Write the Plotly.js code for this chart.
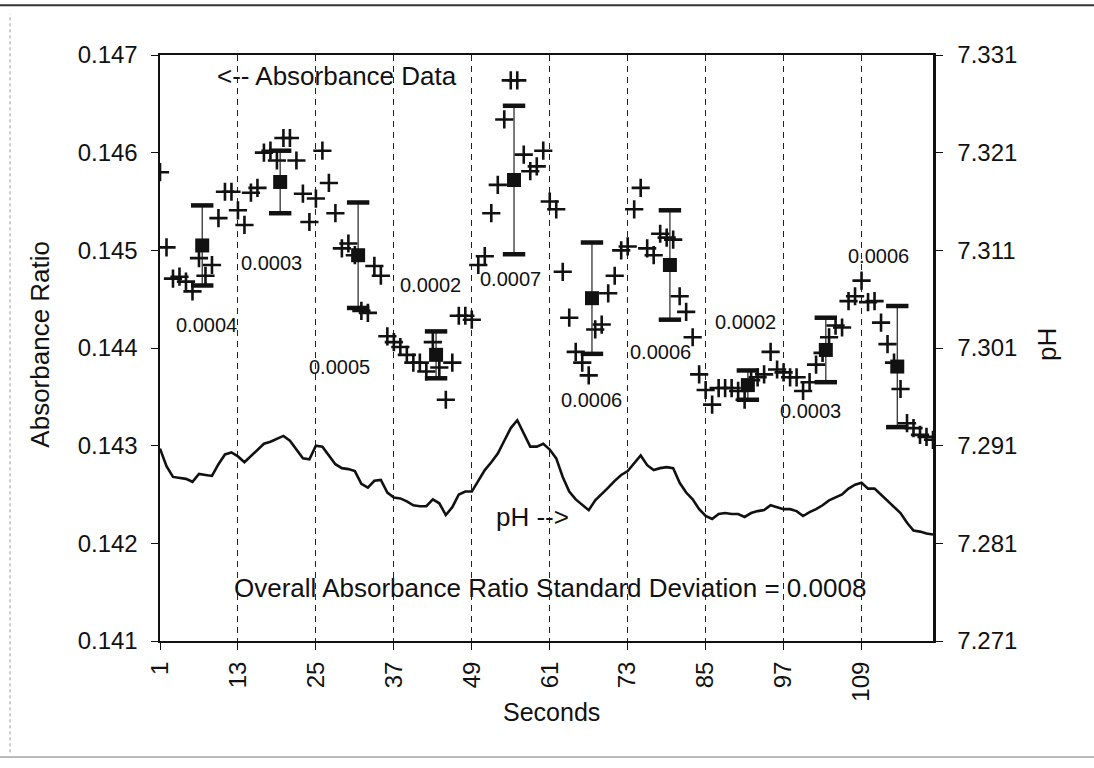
<!DOCTYPE html>
<html><head><meta charset="utf-8">
<script src="https://cdn.plot.ly/plotly-3.0.1.min.js"></script>
<style>html,body{margin:0;padding:0;background:#fff;} #chart{width:1094px;height:768px;}</style>
</head><body><div id="chart"></div>
<script>
// Absorbance ratio, one reading per second (seconds 1..120)
const absorbance = [
0.14580,0.14503,0.14471,0.14473,0.14468,0.14458,0.14492,0.14474,0.14485,0.14533,
0.14560,0.14560,0.14541,0.14526,0.14559,0.14564,0.14600,0.14602,0.14592,0.14615,
0.14615,0.14592,0.14558,0.14529,0.14553,0.14602,0.14569,0.14538,0.14502,0.14507,
0.14495,0.14438,0.14436,0.14484,0.14474,0.14412,0.14406,0.14401,0.14393,0.14385,
0.14385,0.14376,0.14406,0.14380,0.14347,0.14385,0.14433,0.14433,0.14429,0.14485,
0.14494,0.14538,0.14567,0.14634,0.14674,0.14674,0.14598,0.14581,0.14586,0.14602,
0.14550,0.14542,0.14478,0.14431,0.14396,0.14385,0.14372,0.14419,0.14424,0.14456,
0.14474,0.14500,0.14504,0.14542,0.14564,0.14502,0.14495,0.14517,0.14513,0.14511,
0.14453,0.14437,0.14411,0.14373,0.14357,0.14342,0.14359,0.14359,0.14359,0.14356,
0.14347,0.14367,0.14370,0.14373,0.14396,0.14378,0.14375,0.14370,0.14370,0.14356,
0.14365,0.14383,0.14395,0.14411,0.14423,0.14421,0.14448,0.14453,0.14469,0.14447,
0.14448,0.14426,0.14404,0.14385,0.14358,0.14323,0.14318,0.14311,0.14309,0.14306];

// pH, one reading per second (seconds 1..120)
const ph = [
7.2907,7.2889,7.2878,7.2877,7.2876,7.2873,7.2881,7.2880,7.2879,7.2891,
7.2901,7.2903,7.2899,7.2893,7.2899,7.2905,7.2912,7.2914,7.2917,7.2920,
7.2915,7.2906,7.2897,7.2896,7.2910,7.2909,7.2900,7.2891,7.2887,7.2886,
7.2884,7.2871,7.2867,7.2874,7.2875,7.2862,7.2857,7.2856,7.2853,7.2849,
7.2848,7.2848,7.2855,7.2851,7.2839,7.2847,7.2860,7.2863,7.2863,7.2874,
7.2885,7.2893,7.2902,7.2915,7.2928,7.2936,7.2923,7.2909,7.2909,7.2912,
7.2906,7.2897,7.2878,7.2863,7.2855,7.2849,7.2844,7.2854,7.2860,7.2867,
7.2874,7.2880,7.2884,7.2892,7.2900,7.2890,7.2885,7.2887,7.2888,7.2887,
7.2872,7.2862,7.2855,7.2845,7.2838,7.2835,7.2840,7.2841,7.2840,7.2840,
7.2837,7.2841,7.2843,7.2844,7.2849,7.2847,7.2845,7.2845,7.2843,7.2838,
7.2842,7.2845,7.2849,7.2854,7.2857,7.2860,7.2866,7.2870,7.2872,7.2866,
7.2866,7.2860,7.2854,7.2848,7.2841,7.2831,7.2823,7.2822,7.2820,7.2819];

// 12-second group means and standard deviations
const groupCenter = [7.5,19.5,31.5,43.5,55.5,67.5,79.5,91.5,103.5,114.5];
const groupMean   = [0.14505,0.14570,0.14495,0.14393,0.14572,0.14451,0.14485,0.14362,0.14398,0.14381];
const groupSD     = [0.00041,0.00032,0.00054,0.00024,0.00076,0.00057,0.00056,0.00015,0.00033,0.00062];
const sdLabels    = ['0.0004','0.0003','0.0005','0.0002','0.0007','0.0006','0.0006','0.0002','0.0003','0.0006'];

const xTickVals = [1,13,25,37,49,61,73,85,97,109];
const xTickText = ['1','13','25','37','49','61','73','85','97','109'];
const absTicks  = [0.141,0.142,0.143,0.144,0.145,0.146,0.147];
const phTicks   = [7.271,7.281,7.291,7.301,7.311,7.321,7.331];

const FONT = '"Liberation Sans", Arial, sans-serif';

const capY = groupMean.map((m,i)=>m+groupSD[i]).concat(groupMean.map((m,i)=>m-groupSD[i]));
const capX = groupCenter.concat(groupCenter);

const traces = [
  {x0:1, dx:1, y:ph, yaxis:'y2', type:'scatter', mode:'lines',
   line:{color:'#111', width:2.6}, hoverinfo:'skip'},
  {x0:1, dx:1, y:absorbance, type:'scatter', mode:'markers',
   marker:{symbol:'cross-thin', size:13, color:'#111', line:{color:'#111', width:2.6}}},
  {x:groupCenter, y:groupMean, type:'scatter', mode:'markers',
   marker:{symbol:'square', size:14, color:'#111'},
   error_y:{type:'data', array:groupSD, visible:true, color:'#222', thickness:1.2, width:0}},
  {x:capX, y:capY, type:'scatter', mode:'markers',
   marker:{symbol:'line-ew', size:16, color:'#111', line:{color:'#111', width:4.5}}}
];

const sdPos = [[8.2,0.14424],[18.2,0.14487],[28.7,0.14381],[42.6,0.14464],[54.9,0.14471],
               [67.5,0.14347],[78.1,0.14396],[91.2,0.14427],[101.1,0.14335],[111.6,0.14494]];
const annotations = sdLabels.map((t,i)=>({x:sdPos[i][0], y:sdPos[i][1], xref:'x', yref:'y',
  xanchor:'center', yanchor:'middle',
  text:t, showarrow:false, font:{family:FONT, size:20, color:'#111'}}));

annotations.push(
  {x:28.2, y:0.14678, xref:'x', yref:'y', xanchor:'center', yanchor:'middle', text:'&lt;-- Absorbance Data', showarrow:false,
   font:{family:FONT, size:26, color:'#111'}},
  {x:58.3, y:0.14227, xref:'x', yref:'y', xanchor:'center', yanchor:'middle', text:'pH --&gt;', showarrow:false,
   font:{family:FONT, size:26, color:'#111'}},
  {x:61.0, y:0.14154, xref:'x', yref:'y', xanchor:'center', yanchor:'middle', text:'Overall Absorbance Ratio Standard Deviation = 0.0008', showarrow:false,
   font:{family:FONT, size:26, color:'#111'}},
  {x:-0.155, y:0.506, xref:'paper', yref:'paper', xanchor:'center', yanchor:'middle', text:'Absorbance Ratio', textangle:-90, showarrow:false,
   font:{family:FONT, size:26, color:'#111'}},
  {x:1.148, y:0.506, xref:'paper', yref:'paper', xanchor:'center', yanchor:'middle', text:'pH', textangle:-90, showarrow:false,
   font:{family:FONT, size:26, color:'#111'}},
  {x:0.506, y:-0.121, xref:'paper', yref:'paper', xanchor:'center', yanchor:'middle', text:'Seconds', showarrow:false,
   font:{family:FONT, size:25, color:'#111'}}
);

const shapes = [
  {type:'line', xref:'paper', yref:'paper', x0:-0.21, x1:1.21, y0:1.085, y1:1.085, line:{color:'#333', width:2}},
  {type:'line', xref:'paper', yref:'paper', x0:-0.21, x1:1.21, y0:-0.198, y1:-0.198, line:{color:'#777', width:1}},
  {type:'line', xref:'paper', yref:'paper', x0:-0.194, x1:-0.194, y0:-0.19, y1:1.07, line:{color:'#999', width:1, dash:'dot'}}
];

const layout = {
  width:1094, height:768,
  margin:{l:160, r:161, t:55, b:127, pad:0},
  paper_bgcolor:'#fff', plot_bgcolor:'#fff',
  font:{family:FONT, size:24, color:'#111'},
  showlegend:false,
  xaxis:{range:[1,120], tickmode:'array', tickvals:xTickVals, ticktext:xTickText, tickangle:-90,
    tickfont:{size:24}, showgrid:true, gridcolor:'#222', gridwidth:1, griddash:'6px,5px',
    showline:true, linecolor:'#111', linewidth:2, mirror:true, ticks:'outside', ticklen:7,
    tickcolor:'#111', zeroline:false, ticklabelstandoff:2},
  yaxis:{range:[0.141,0.147], tickmode:'array', tickvals:absTicks, tickformat:'.3f',
    tickfont:{size:24}, showgrid:false, showline:true, linecolor:'#111', linewidth:2.5,
    ticks:'outside', ticklen:7, tickcolor:'#111', zeroline:false, ticklabelstandoff:8},
  yaxis2:{range:[7.271,7.331], overlaying:'y', side:'right', tickmode:'array', tickvals:phTicks,
    tickformat:'.3f', tickfont:{size:24}, showgrid:false, showline:true, linecolor:'#111', linewidth:2.5,
    ticks:'outside', ticklen:7, tickcolor:'#111', zeroline:false, ticklabelstandoff:10},
  annotations:annotations,
  shapes:shapes
};

Plotly.newPlot('chart', traces, layout, {displayModeBar:false, staticPlot:true});
</script>
</body></html>
